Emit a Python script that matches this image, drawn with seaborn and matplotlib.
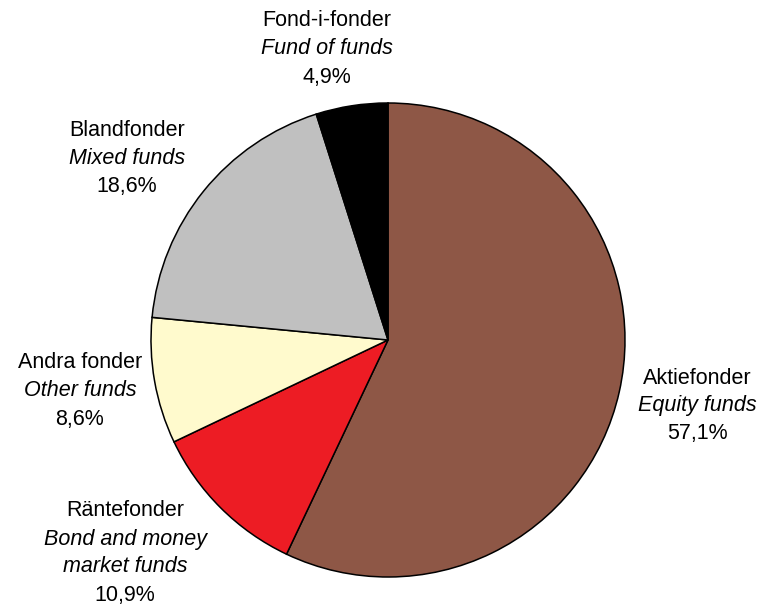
import matplotlib
matplotlib.use("Agg")
import matplotlib.pyplot as plt
import seaborn as sns

# fund categories (swedish / english) and shares in percent
names_sv = ["Aktiefonder", "Räntefonder", "Andra fonder", "Blandfonder", "Fond-i-fonder"]
names_en = ["Equity funds", "Bond and money\nmarket funds", "Other funds", "Mixed funds", "Fund of funds"]
shares = [57.1, 10.9, 8.6, 18.6, 4.9]
colors = ["#8E5746", "#ED1C24", "#FFFACD", "#C0C0C0", "#000000"]

sns.set_style("white")
plt.rcParams["font.family"] = ["Liberation Sans", "DejaVu Sans"]
plt.rcParams["text.color"] = "black"

W, H = 763, 611
fig = plt.figure(figsize=(W / 100, H / 100), dpi=100)
cx, cy, r = 388, 340, 237
ax = fig.add_axes([(cx - r) / W, (H - cy - r) / H, 2 * r / W, 2 * r / H])

ax.pie(shares, colors=colors, startangle=90, counterclock=False, radius=1,
       wedgeprops=dict(edgecolor="black", linewidth=1.1))
ax.set_xlim(-1, 1)
ax.set_ylim(-1, 1)
ax.set_aspect("equal")
ax.axis("off")

# label anchor (pixel centre of first line) for each slice
label_pos = [(697, 378), (125, 511), (80, 363), (127, 131), (327, 21)]
step = 28
fs = 15.5
for sv, en, val, (px, py) in zip(names_sv, names_en, shares, label_pos):
    lines = [(sv, "normal")] + [(l, "italic") for l in en.split("\n")] + \
            [(f"{val:.1f}%".replace(".", ","), "normal")]
    for i, (txt, st) in enumerate(lines):
        fig.text(px / W, 1 - (py + i * step) / H, txt, ha="center", va="center",
                 fontsize=fs, style=st, color="black")

fig.savefig("out.png", dpi=100)
